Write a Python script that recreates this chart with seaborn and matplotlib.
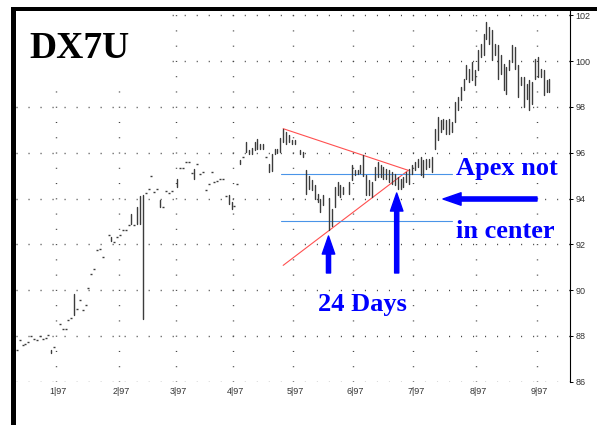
import matplotlib
matplotlib.use("Agg")
import matplotlib.pyplot as plt
import pandas as pd
import seaborn as sns
from matplotlib.patches import Rectangle

# ---------------- data (trading-day index, daily low / high) ----------------
day = [0, 1, 2, 3, 4, 5, 6, 7, 8, 9, 10, 11, 12, 13,
       15, 16, 17, 18, 19, 20, 21, 22, 23, 24, 25, 26, 27, 28, 29, 30,
       32, 33, 34, 35, 36, 37, 38, 39, 40, 41, 42, 43, 44, 45, 46, 47, 48, 49,
       50, 51, 52, 53, 54, 56, 57, 58, 59, 60, 61, 62, 63, 64, 65, 66, 67, 68,
       69, 70, 71, 72, 73, 74, 75, 76, 77, 78, 79, 80, 81, 82, 83, 84, 85, 86,
       87, 88, 89, 90, 91, 92, 93, 94, 95, 96, 97, 99, 100, 101, 102, 103, 104,
       105, 106, 107, 109, 110, 111, 112, 113, 114, 116, 117, 118, 119, 120,
       121, 122, 123, 124, 125, 126, 127, 128, 129, 130, 131, 132, 133, 134,
       135, 136, 137, 138, 139, 140, 141, 142, 143, 144, 145, 146, 147, 148,
       149, 150, 151, 152, 153, 154, 155, 156, 157, 158, 159, 160, 161, 162,
       163, 164, 165, 166, 167, 168, 169, 170, 171, 172, 173, 174, 175, 176,
       177, 178, 179, 180, 181, 182, 183, 184, 185, 186]
low = [87.40, 87.81, 87.62, 87.66, 87.73, 87.98, 87.88, 87.84, 87.98, 87.88, 87.93, 88.03, 87.25, 87.52,
       88.54, 88.28, 88.28, 88.71, 88.80, 88.90, 89.19, 89.55, 89.15, 89.34, 90.11, 90.72, 90.90, 91.74, 91.81, 91.45,
       92.42, 92.14, 92.10, 92.32, 92.42, 92.64, 92.64, 92.83, 92.90, 92.83, 92.90, 92.90, 88.73, 94.26, 94.43, 94.97, 94.29, 94.43,
       93.63, 93.63, 94.33, 94.24, 94.33, 94.50, 95.35, 95.35, 95.59, 95.59, 95.13, 94.83, 95.52, 95.09, 95.16, 94.39, 94.65, 95.16,
       94.72, 94.76, 94.87, 94.83, 94.10, 93.78, 93.52, 93.66, 94.65, 95.49, 95.81, 96.03, 95.93, 95.93, 96.10, 96.18, 96.18, 96.18,
       95.81, 95.16, 95.19, 95.96, 95.99, 96.03, 96.47, 96.40, 96.47, 96.37, 96.40, 95.96, 95.81, 94.18, 94.43, 94.36, 94.00,
       93.85, 93.41, 93.70, 92.64, 92.79, 93.63, 94.14, 94.07, 94.18, 94.21, 94.79, 95.01, 95.06, 95.11,
       95.00, 94.14, 94.14, 94.07, 94.79, 94.94, 94.94, 94.87, 94.83, 94.72, 94.65, 94.58, 94.43, 94.43,
       94.50, 94.72, 94.65, 95.09, 95.23, 95.38, 95.01, 94.94, 95.31, 95.38, 95.16, 96.18, 96.54, 96.90,
       97.05, 96.83, 96.83, 96.90, 97.34, 97.85, 98.29, 98.72, 99.24, 99.09, 99.16, 98.94, 99.60, 100.18,
       100.25, 100.98, 100.76, 100.03, 100.25, 99.23, 99.45, 98.72, 98.58, 99.60, 99.96, 99.67, 98.43, 98.94,
       98.00, 98.36, 97.85, 98.14, 99.23, 99.31, 99.31, 98.51, 98.65, 98.65]
high = [87.40, 87.81, 87.62, 87.66, 87.73, 87.98, 87.88, 87.84, 87.98, 87.88, 87.93, 88.03, 87.37, 87.52,
        88.54, 88.28, 88.28, 88.71, 88.80, 89.85, 89.19, 89.55, 89.15, 89.34, 90.11, 90.72, 90.90, 91.74, 91.81, 91.45,
        92.42, 92.32, 92.10, 92.32, 92.42, 92.64, 92.64, 92.83, 93.31, 92.83, 93.63, 94.10, 94.14, 94.26, 94.43, 94.97, 94.29, 94.43,
        93.92, 93.63, 94.33, 94.24, 94.33, 94.87, 95.35, 95.35, 95.59, 95.59, 95.13, 95.31, 95.52, 95.09, 95.16, 94.39, 94.65, 95.16,
        94.72, 94.76, 94.87, 94.83, 94.10, 94.14, 93.85, 93.66, 94.65, 95.70, 95.81, 96.47, 96.10, 96.22, 96.47, 96.62, 96.40, 96.37,
        95.81, 95.52, 95.96, 96.14, 96.18, 96.66, 97.05, 96.90, 96.76, 96.54, 96.57, 96.10, 96.03, 95.23, 94.97, 94.79, 94.58,
        94.21, 94.00, 94.14, 94.04, 93.56, 94.50, 94.72, 94.58, 94.50, 94.72, 95.45, 95.23, 95.26, 95.45,
        95.89, 95.01, 94.79, 94.72, 95.38, 95.60, 95.45, 95.38, 95.31, 95.23, 95.16, 95.09, 94.94, 94.87,
        94.94, 95.16, 95.31, 95.45, 95.60, 95.74, 95.82, 95.67, 95.74, 95.74, 95.82, 97.05, 97.56, 97.41,
        97.49, 97.41, 97.49, 97.34, 98.21, 98.43, 98.87, 99.24, 99.82, 99.67, 99.96, 99.60, 100.47, 100.76,
        101.20, 101.71, 101.49, 101.34, 100.76, 100.69, 100.25, 99.89, 99.74, 100.03, 100.69, 100.62, 99.82, 99.31,
        99.31, 99.02, 99.16, 99.09, 100.10, 100.18, 99.67, 99.60, 99.16, 99.23]

month_first_day = [14, 36, 56, 76, 97, 118, 139, 161, 182]
month_labels = ["1|97", "2|97", "3|97", "4|97", "5|97", "6|97", "7|97", "8|97", "9|97"]
y_ticks = [86, 88, 90, 92, 94, 96, 98, 100, 102]

# triangle and reference lines (analyst annotations)
upper_trend_day = [93.0, 136.7]
upper_trend_price = [97.05, 95.23]
lower_trend_day = [93.0, 136.7]
lower_trend_price = [91.08, 95.23]
resist_day = [92.4, 151.9]
resist_price = [95.09, 95.09]
support_day = [92.4, 151.9]
support_price = [93.00, 93.00]

# ---------------- figure ----------------
W, H = 597, 425
sns.set_theme(style="white")
plt.rcParams["lines.scale_dashes"] = False
plt.rcParams["font.family"] = ["Liberation Sans", "DejaVu Sans"]

fig = plt.figure(figsize=(W / 100, H / 100), dpi=100)
fig.patch.set_facecolor("white")
ax_l, ax_r, ax_t, ax_b = 15.7, 570.0, 11.0, 381.7
ax = fig.add_axes([ax_l / W, 1 - ax_b / H, (ax_r - ax_l) / W, (ax_b - ax_t) / H])
ax.set_facecolor("white")

n = len(day)
bars = pd.DataFrame({
    "day": day + day,
    "price": low + high,
    "bar": list(range(n)) + list(range(n)),
})
sns.lineplot(data=bars, x="day", y="price", units="bar", estimator=None,
             color="#3c3c3c", linewidth=1.0, ax=ax, legend=False, zorder=3)

flat = pd.DataFrame({"day": day, "low": low, "high": high})
flat = flat[(flat["high"] - flat["low"]) < 0.05]
sns.scatterplot(data=flat, x="day", y="high", marker="_", s=2.5, linewidth=1.0,
                color="#3c3c3c", ax=ax, legend=False, zorder=3)

red = "#ff5050"
blue_line = "#4a94e8"
for dx, py, c in [(upper_trend_day, upper_trend_price, red),
                  (lower_trend_day, lower_trend_price, red),
                  (resist_day, resist_price, blue_line),
                  (support_day, support_price, blue_line)]:
    sns.lineplot(x=dx, y=py, color=c, linewidth=0.8, ax=ax, legend=False, zorder=2)

px_per_day = 2.863
x0_px = 16.9
ax.set_xlim((ax_l - x0_px) / px_per_day, (ax_r - x0_px) / px_per_day)
ax.set_ylim(86, 86 + (ax_b - ax_t) / 22.9)

# grid at month boundaries, labels on first trading days
ax.set_xticks([d - 0.5 for d in month_first_day])
ax.set_xticklabels([""] * len(month_first_day))
ax.set_xticks([d + 0.3 for d in month_first_day], minor=True)
ax.set_xticklabels(month_labels, minor=True)
ax.tick_params(axis="x", which="both", length=0, pad=4, labelsize=6.5, labelcolor="#333333")

ax.yaxis.tick_right()
ax.set_yticks(y_ticks)
ax.set_yticklabels([str(v) for v in y_ticks])
ax.tick_params(axis="y", which="major", direction="out", length=2.5, width=0.7,
               color="black", pad=1.5, labelsize=6.5, labelcolor="#333333", right=True, left=False)
ax.set_xlabel("")
ax.set_ylabel("")

ax.set_axisbelow(True)
ax.xaxis.grid(True, which="major", color="#444444", linewidth=1.0, linestyle=(0, (0.75, 10.24)))
ax.yaxis.grid(True, which="major", color="#444444", linewidth=1.0, linestyle=(0, (0.75, 7.9)))

for side in ["left", "top", "bottom"]:
    ax.spines[side].set_visible(False)
ax.spines["right"].set_visible(True)
ax.spines["right"].set_color("black")
ax.spines["right"].set_linewidth(0.8)

# white box behind title and frame lines
def fr(x, y):
    return (x / W, 1 - y / H)

fig.patches.append(Rectangle(fr(16, 82), (165 - 16) / W, (82 - 11) / H,
                             transform=fig.transFigure, facecolor="white",
                             edgecolor="none", zorder=1))
fig.patches.append(Rectangle(fr(11, H), (15.7 - 11) / W, (H - 6.7) / H,
                             transform=fig.transFigure, facecolor="black",
                             edgecolor="none", zorder=2))
fig.patches.append(Rectangle(fr(11, 11), (W - 11) / W, (11 - 6.7) / H,
                             transform=fig.transFigure, facecolor="black",
                             edgecolor="none", zorder=2))

serif = ["Liberation Serif", "DejaVu Serif"]
fig.text(*fr(29, 58), "DX7U", fontsize=27, fontweight="bold", family=serif,
         color="black", ha="left", va="baseline", zorder=5)
blue = "#0000ff"
fig.text(*fr(456, 174.5), "Apex not", fontsize=19, fontweight="bold", family=serif,
         color=blue, ha="left", va="baseline", zorder=5)
fig.text(*fr(456, 238), "in center", fontsize=19, fontweight="bold", family=serif,
         color=blue, ha="left", va="baseline", zorder=5)
fig.text(*fr(317.5, 311), "24 Days", fontsize=19, fontweight="bold", family=serif,
         color=blue, ha="left", va="baseline", zorder=5)

arrow_style = "simple,head_length=1.3,head_width=0.9,tail_width=0.3"
for tail, head in [((537, 199), (443, 199)),
                   ((328.5, 273), (328.5, 236)),
                   ((396.7, 273), (396.7, 193))]:
    fig.add_artist(matplotlib.patches.FancyArrowPatch(
        posA=fr(*tail), posB=fr(*head), transform=fig.transFigure,
        arrowstyle=arrow_style, mutation_scale=10, color=blue,
        shrinkA=0, shrinkB=0, zorder=5))

fig.savefig("out.png", dpi=100, facecolor="white")
